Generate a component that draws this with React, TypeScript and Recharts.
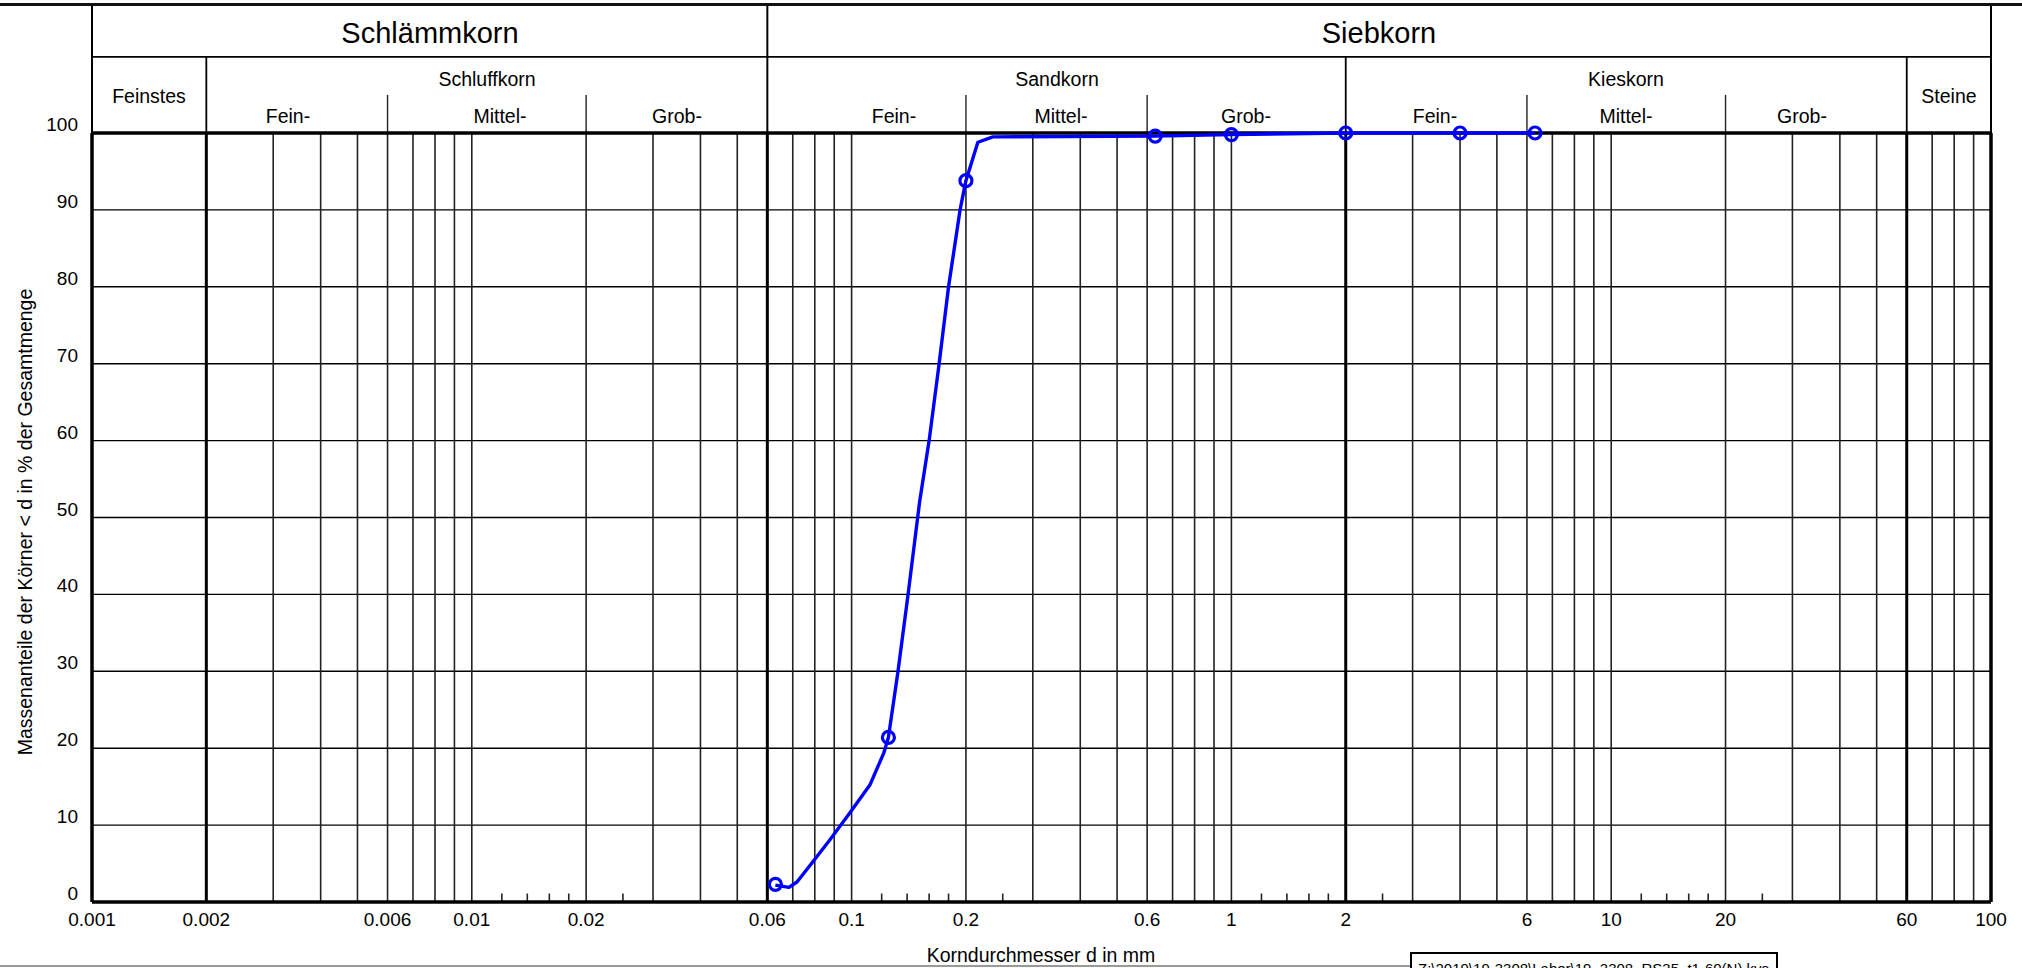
import React from 'react'
import { ComposedChart, Line, XAxis, YAxis, ReferenceLine } from 'recharts'

// Sieblinie: Kurve (Polylinie) und Messpunkte
const curve = [
  { d: 0.063, p: 2.2 },
  { d: 0.0684, p: 1.9 },
  { d: 0.0718, p: 2.6 },
  { d: 0.0787, p: 5.1 },
  { d: 0.0877, p: 8.1 },
  { d: 0.099, p: 11.6 },
  { d: 0.1117, p: 15.2 },
  { d: 0.1216, p: 19.4 },
  { d: 0.125, p: 21.4 },
  { d: 0.1325, p: 30 },
  { d: 0.141, p: 40.2 },
  { d: 0.151, p: 52 },
  { d: 0.16, p: 60 },
  { d: 0.17, p: 70 },
  { d: 0.18, p: 80 },
  { d: 0.193, p: 90 },
  { d: 0.2, p: 93.8 },
  { d: 0.215, p: 98.8 },
  { d: 0.2355, p: 99.5 },
  { d: 0.63, p: 99.6 },
  { d: 1.0, p: 99.8 },
  { d: 2.0, p: 100 },
  { d: 4.0, p: 100 },
  { d: 6.3, p: 100 },
]

const measured = [
  { d: 0.063, p: 2.3 },
  { d: 0.125, p: 21.4 },
  { d: 0.2, p: 93.8 },
  { d: 0.63, p: 99.6 },
  { d: 1.0, p: 99.8 },
  { d: 2.0, p: 100 },
  { d: 4.0, p: 100 },
  { d: 6.3, p: 100 },
]

const xTicks = [0.001, 0.002, 0.006, 0.01, 0.02, 0.06, 0.1, 0.2, 0.6, 1, 2, 6, 10, 20, 60, 100]
const yTicks = [0, 10, 20, 30, 40, 50, 60, 70, 80, 90, 100]
const hGrid = [10, 20, 30, 40, 50, 60, 70, 80, 90]
const vGrid = [
  0.003, 0.004, 0.005, 0.006, 0.007, 0.008, 0.009, 0.01, 0.02, 0.03, 0.04, 0.05,
  0.07, 0.08, 0.09, 0.1, 0.2, 0.3, 0.4, 0.5, 0.6, 0.7, 0.8, 0.9, 1,
  3, 4, 5, 6, 7, 8, 9, 10, 20, 30, 40, 50, 70, 80, 90,
]
const vBold = [0.002, 0.06, 2, 60]
const vMinor = [
  0.012, 0.014, 0.016, 0.018, 0.025,
  0.12, 0.14, 0.16, 0.18, 0.25,
  1.2, 1.4, 1.6, 1.8, 2.5,
  12, 14, 16, 18, 25,
]
// Kopfzeile: Grenzen der Bodenarten
const headMain = [0.001, 0.06, 100]
const headGroup = [0.002, 2, 60]
const headSub = [0.006, 0.02, 0.2, 0.6, 6, 20]

const FONT = '"Liberation Sans", Arial, sans-serif'
// Kopf-Höhen in %-Einheiten oberhalb von 100
const HEAD_TOP = 116.8
const HEAD_ROW = 109.9
const HEAD_SUB = 104.95

const renderXTick = (props: any) => (
  <text x={props.x} y={926} textAnchor="middle" fontSize={19} fontFamily={FONT} fill="#000">
    {String(props.payload.value)}
  </text>
)

const renderYTick = (props: any) => (
  <text x={78} y={props.y - 2} textAnchor="end" fontSize={19} fontFamily={FONT} fill="#000">
    {props.payload.value}
  </text>
)

const headerTexts = [
  { t: 'Schlämmkorn', x: 430, y: 43, s: 29 },
  { t: 'Siebkorn', x: 1379, y: 43, s: 29 },
  { t: 'Feinstes', x: 149, y: 103, s: 19.5 },
  { t: 'Schluffkorn', x: 487, y: 86, s: 19.5 },
  { t: 'Sandkorn', x: 1057, y: 86, s: 19.5 },
  { t: 'Kieskorn', x: 1626, y: 86, s: 19.5 },
  { t: 'Steine', x: 1949, y: 103, s: 19.5 },
  { t: 'Fein-', x: 288, y: 123, s: 19.5 },
  { t: 'Mittel-', x: 500, y: 123, s: 19.5 },
  { t: 'Grob-', x: 677, y: 123, s: 19.5 },
  { t: 'Fein-', x: 894, y: 123, s: 19.5 },
  { t: 'Mittel-', x: 1061, y: 123, s: 19.5 },
  { t: 'Grob-', x: 1246, y: 123, s: 19.5 },
  { t: 'Fein-', x: 1435, y: 123, s: 19.5 },
  { t: 'Mittel-', x: 1626, y: 123, s: 19.5 },
  { t: 'Grob-', x: 1802, y: 123, s: 19.5 },
]

export default function App() {
  return (
    <div style={{ position: 'absolute', left: 0, top: 0, width: 2022, height: 968, overflow: 'hidden', background: '#fff' }}>
      <ComposedChart width={2022} height={968} margin={{ top: 133, right: 31, bottom: 36, left: 32 }}>
        <XAxis
          dataKey="d"
          type="number"
          scale="log"
          domain={[0.001, 100]}
          allowDataOverflow
          ticks={xTicks}
          interval={0}
          axisLine={false}
          tickLine={false}
          height={30}
          tick={renderXTick}
        />
        <YAxis
          type="number"
          domain={[0, 100]}
          ticks={yTicks}
          interval={0}
          axisLine={false}
          tickLine={false}
          width={60}
          tick={renderYTick}
        />

        {hGrid.map(v => (
          <ReferenceLine key={'h' + v} y={v} stroke="#000" strokeWidth={1.4} ifOverflow="visible" />
        ))}
        {vGrid.map(v => (
          <ReferenceLine key={'v' + v} segment={[{ x: v, y: 0 }, { x: v, y: 100 }]} stroke="#222" strokeWidth={1.6} ifOverflow="visible" />
        ))}
        {vMinor.map(v => (
          <ReferenceLine key={'m' + v} segment={[{ x: v, y: 0 }, { x: v, y: 1.1 }]} stroke="#222" strokeWidth={1.6} ifOverflow="visible" />
        ))}
        {vBold.map(v => (
          <ReferenceLine key={'b' + v} segment={[{ x: v, y: 0 }, { x: v, y: 100 }]} stroke="#000" strokeWidth={3} ifOverflow="visible" />
        ))}
        {headGroup.map(v => (
          <ReferenceLine key={'hg' + v} segment={[{ x: v, y: 100 }, { x: v, y: HEAD_ROW }]} stroke="#000" strokeWidth={1.8} ifOverflow="visible" />
        ))}
        {headSub.map(v => (
          <ReferenceLine key={'hs' + v} segment={[{ x: v, y: 100 }, { x: v, y: HEAD_SUB }]} stroke="#222" strokeWidth={1.4} ifOverflow="visible" />
        ))}
        <ReferenceLine segment={[{ x: 0.001, y: HEAD_ROW }, { x: 100, y: HEAD_ROW }]} stroke="#000" strokeWidth={1.8} ifOverflow="visible" />
        {headMain.map(v => (
          <ReferenceLine key={'hm' + v} segment={[{ x: v, y: 100 }, { x: v, y: HEAD_TOP }]} stroke="#000" strokeWidth={2} ifOverflow="visible" />
        ))}
        <ReferenceLine segment={[{ x: 0.001, y: 0 }, { x: 0.001, y: 100 }]} stroke="#000" strokeWidth={3.5} ifOverflow="visible" />
        <ReferenceLine segment={[{ x: 100, y: 0 }, { x: 100, y: 100 }]} stroke="#000" strokeWidth={3.5} ifOverflow="visible" />
        <ReferenceLine y={0} stroke="#000" strokeWidth={3.5} ifOverflow="visible" />
        <ReferenceLine y={100} stroke="#000" strokeWidth={3.5} ifOverflow="visible" />

        <Line
          data={curve}
          dataKey="p"
          type="linear"
          stroke="#0000ff"
          strokeWidth={3.4}
          strokeLinejoin="round"
          dot={false}
          activeDot={false}
          isAnimationActive={false}
        />
        <Line
          data={measured}
          dataKey="p"
          stroke="none"
          dot={{ r: 6, stroke: '#0000ff', strokeWidth: 3.2, fill: 'none' }}
          activeDot={false}
          isAnimationActive={false}
        />
      </ComposedChart>

      <svg width={2022} height={968} style={{ position: 'absolute', left: 0, top: 0, pointerEvents: 'none' }}>
        {headerTexts.map((h, i) => (
          <text key={i} x={h.x} y={h.y} textAnchor="middle" fontSize={h.s} fontFamily={FONT} fill="#000">
            {h.t}
          </text>
        ))}
        <text
          x={25}
          y={522}
          transform="rotate(-90 25 522)"
          textAnchor="middle"
          dominantBaseline="central"
          fontSize={19.5}
          fontFamily={FONT}
          fill="#000"
        >
          Massenanteile der Körner &lt; d in % der Gesamtmenge
        </text>
        <text x={1041} y={962} textAnchor="middle" fontSize={19.5} fontFamily={FONT} fill="#000">
          Korndurchmesser d in mm
        </text>
      </svg>

      <div style={{ position: 'absolute', left: 0, top: 3, width: 2022, height: 2.5, background: '#111' }} />
      <div style={{ position: 'absolute', left: 0, top: 965, width: 1410, height: 2, background: '#999' }} />
      <div
        style={{
          position: 'absolute', left: 1410, top: 952, width: 368, height: 40,
          border: '2px solid #000', boxSizing: 'border-box', fontFamily: FONT, fontSize: 15,
          paddingLeft: 6, paddingTop: 7, lineHeight: '15px', whiteSpace: 'nowrap', overflow: 'hidden',
        }}
      >
        Z:\2019\19-3308\Labor\19_3308_RS35_t1-60(N).kys
      </div>
    </div>
  )
}
